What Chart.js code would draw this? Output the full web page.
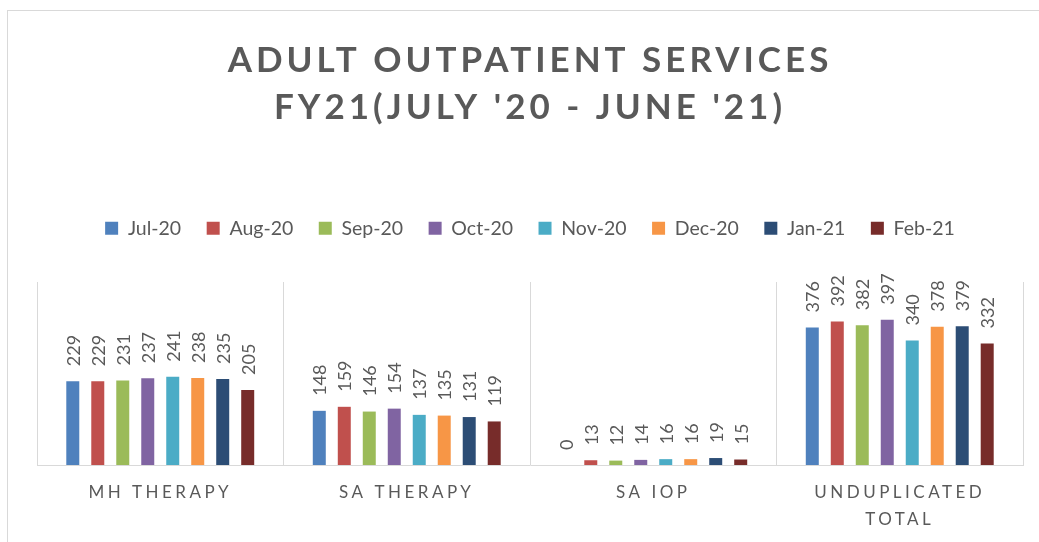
<!DOCTYPE html>
<html>
<head>
<meta charset="utf-8">
<script src="https://cdn.jsdelivr.net/npm/chart.js@4"></script>
<style>
  html,body{margin:0;padding:0;background:#fff;}
  #wrap{position:relative;width:1039px;height:542px;overflow:hidden;}
  #frame{position:absolute;left:7px;top:10px;width:1040px;height:540px;border-left:1px solid #d9d9d9;border-top:1px solid #d9d9d9;}
  #c{position:absolute;left:0;top:0;}
</style>
</head>
<body>
<div id="wrap">
  <div id="frame"></div>
  <canvas id="c" width="1039" height="542"></canvas>
</div>
<script>
// categories + series
const categories = ['MH THERAPY', 'SA THERAPY', 'SA IOP', ['UNDUPLICATED', 'TOTAL']];
const months = ['Jul-20','Aug-20','Sep-20','Oct-20','Nov-20','Dec-20','Jan-21','Feb-21'];
const jul20 = [229, 148, 0, 376];
const aug20 = [229, 159, 13, 392];
const sep20 = [231, 146, 12, 382];
const oct20 = [237, 154, 14, 397];
const nov20 = [241, 137, 16, 340];
const dec20 = [238, 135, 16, 378];
const jan21 = [235, 131, 19, 379];
const feb21 = [205, 119, 15, 332];
const colors = ['#4F81BD','#C0504D','#9BBB59','#8064A2','#4BACC6','#F79646','#2C4D75','#772C2A'];

const GREY = '#595959';
Chart.defaults.font.family = 'Lato, "Open Sans", sans-serif';
Chart.defaults.color = GREY;

// letter spacing for title + category labels
function spaced(obj, fn, sp){
  if(!obj || obj['_sp_'+fn]) return;
  const orig = obj[fn];
  obj[fn] = function(...a){
    const c = this.ctx; c.save(); c.letterSpacing = sp; orig.apply(this, a); c.restore();
  };
  obj['_sp_'+fn] = true;
}
const spacing = {
  id:'spacing',
  beforeDraw(chart){
    spaced(chart.titleBlock, 'draw', '4px');
    spaced(chart.scales.x, 'drawLabels', '3.5px');
  }
};

// rotated value labels above each bar
const valueLabels = {
  id:'valueLabels',
  afterDatasetsDraw(chart){
    const ctx = chart.ctx;
    ctx.save();
    ctx.font = '18px Lato, "Open Sans", sans-serif';
    ctx.fillStyle = GREY;
    ctx.textAlign = 'left';
    ctx.textBaseline = 'middle';
    chart.data.datasets.forEach((ds, i)=>{
      chart.getDatasetMeta(i).data.forEach((bar, j)=>{
        ctx.save();
        ctx.translate(bar.x, bar.y - 15);
        ctx.rotate(-Math.PI/2);
        ctx.fillText(String(ds.data[j]), 0, 1);
        ctx.restore();
      });
    });
    ctx.restore();
  }
};

const series = [jul20, aug20, sep20, oct20, nov20, dec20, jan21, feb21];

new Chart(document.getElementById('c'), {
  type:'bar',
  data:{
    labels: categories,
    datasets: series.map((d,i)=>({
      label: months[i], data: d, backgroundColor: colors[i],
      categoryPercentage: 0.811, barPercentage: 0.52
    }))
  },
  options:{
    responsive:false,
    animation:false,
    events:[],
    layout:{padding:{top:10, left:37, right:16, bottom:0}},
    plugins:{
      title:{
        display:true,
        text:['ADULT OUTPATIENT SERVICES', "FY21(JULY '20 - JUNE '21)"],
        color:GREY,
        font:{size:35, weight:'bold', lineHeight:'47px'},
        padding:{top:27, bottom:62}
      },
      subtitle:{ // spacer between legend and plot
        display:true, text:'', padding:0,
        font:{size:10, lineHeight:'34px'}
      },
      legend:{
        position:'top',
        weight:1800,
        labels:{boxWidth:13, boxHeight:13, padding:25.5, color:GREY, font:{size:19.5}}
      },
      tooltip:{enabled:false}
    },
    scales:{
      x:{
        grid:{color:'#d9d9d9', lineWidth:1, drawTicks:false, offset:true},
        border:{color:'#d9d9d9', width:1},
        ticks:{color:GREY, font:{size:17, lineHeight:'27px'}, padding:14, maxRotation:0, autoSkip:false},
        afterFit(scale){ scale.height = 77; }
      },
      y:{display:false, min:0, max:500}
    }
  },
  plugins:[spacing, valueLabels]
});
</script>
</body>
</html>
